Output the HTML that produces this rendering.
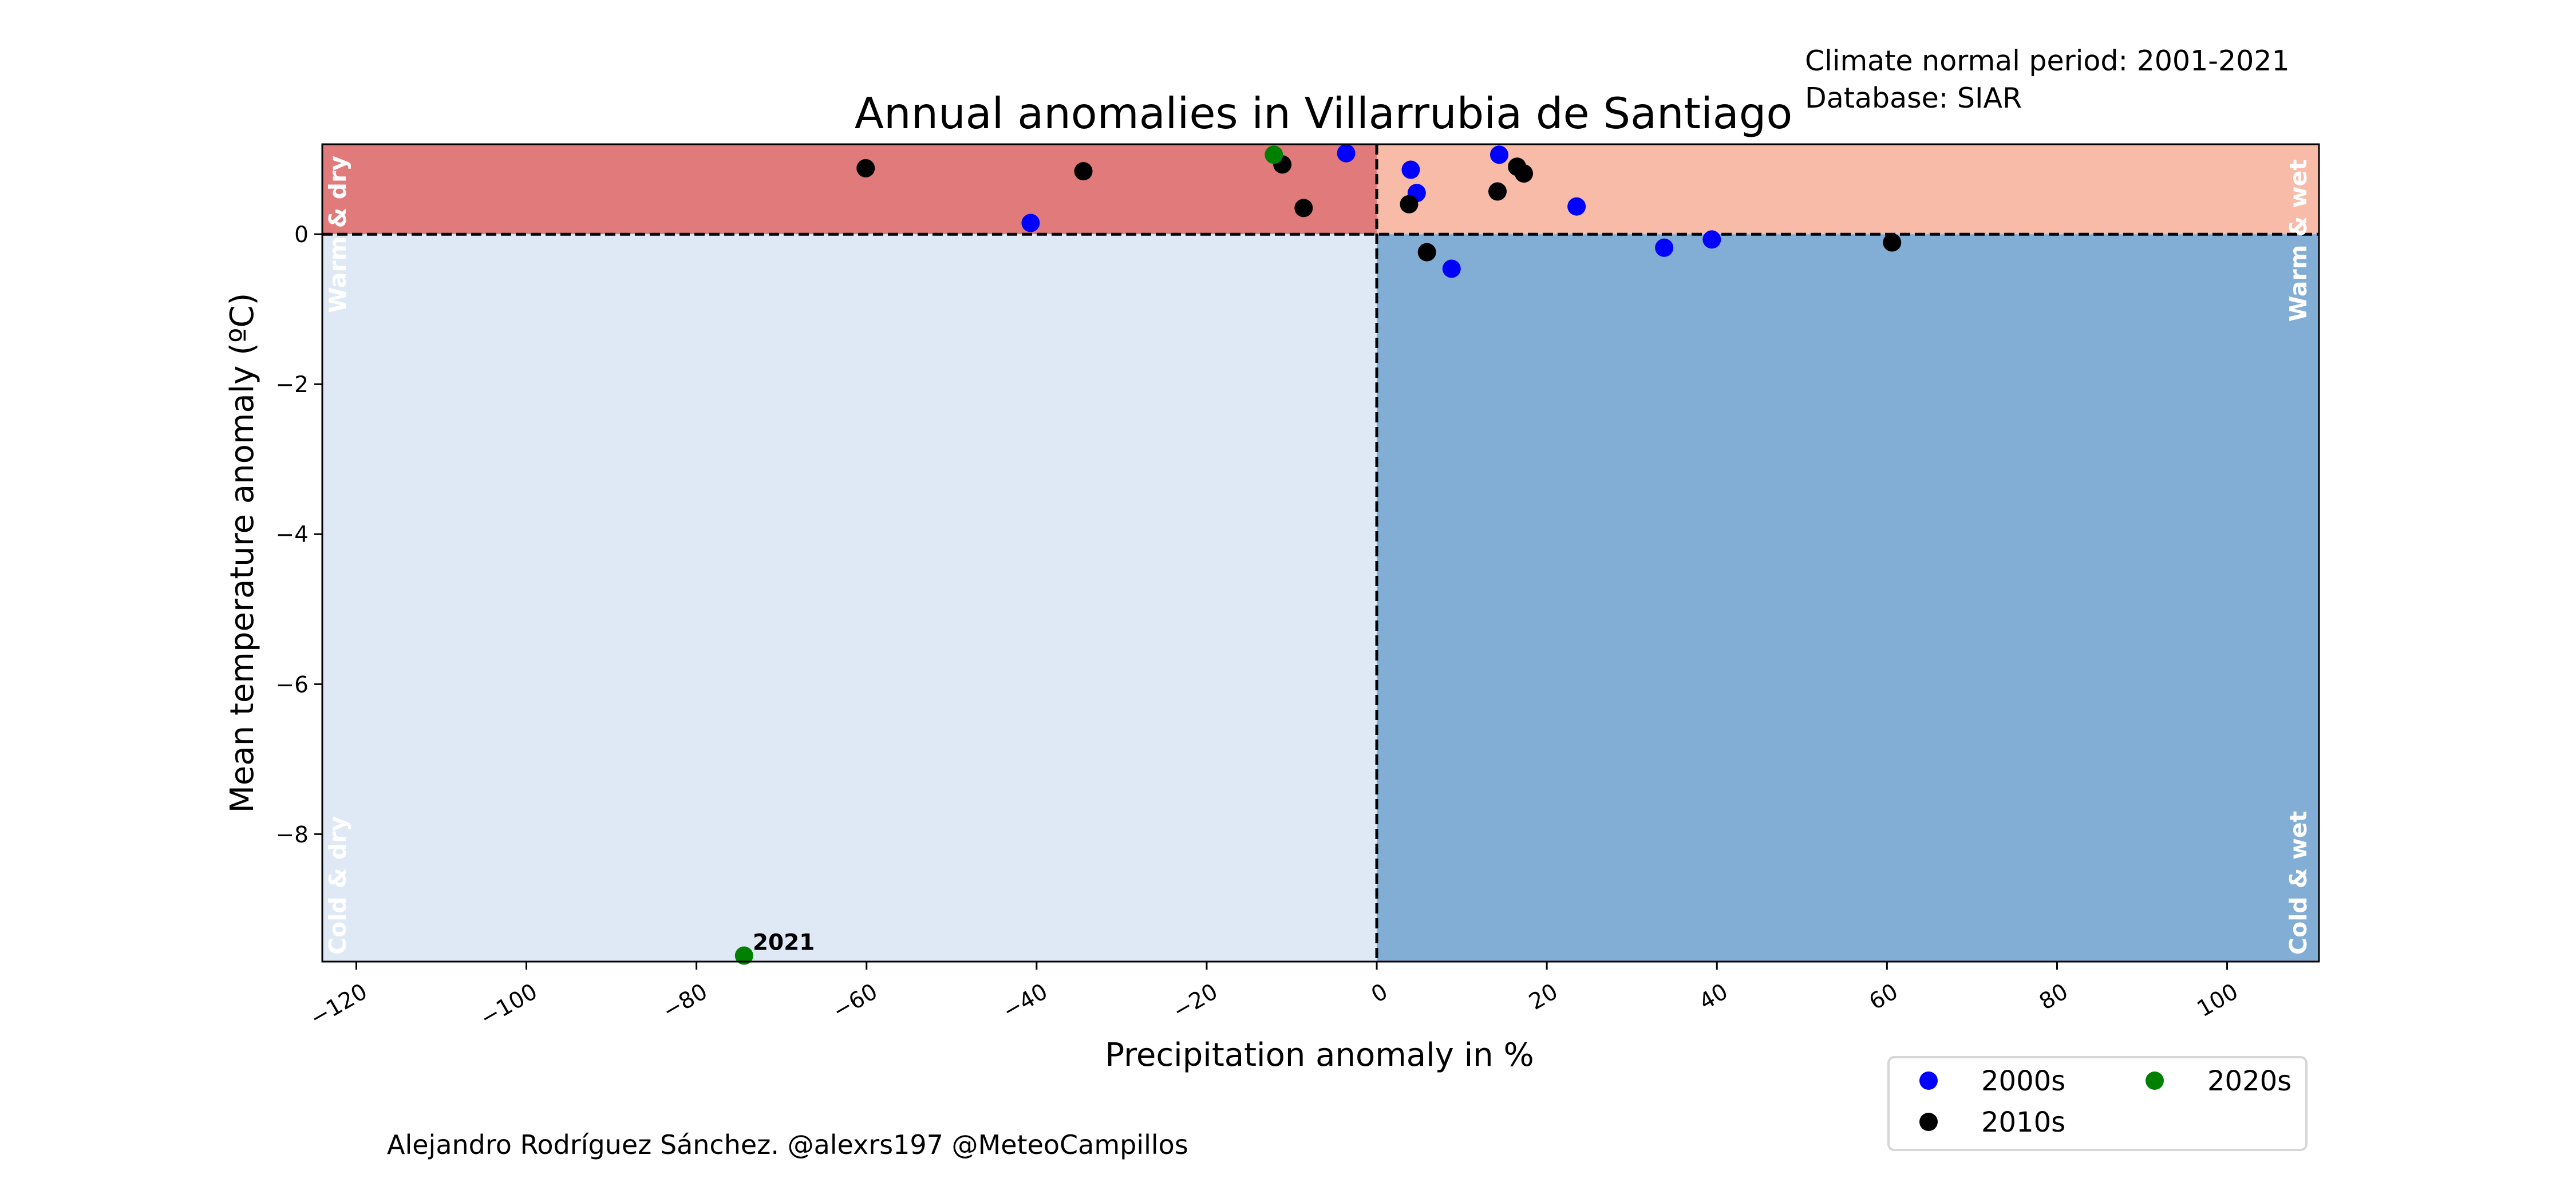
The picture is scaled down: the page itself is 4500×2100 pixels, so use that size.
<!DOCTYPE html>
<html><head><meta charset="utf-8"><style>
html,body{margin:0;padding:0;background:#fff;}
svg{display:block;font-family:"DejaVu Sans","Liberation Sans",sans-serif;}
</style></head><body>
<svg id="chart" width="4500" height="2100" viewBox="0 0 4500 2100">
<g id="bg"></g>
<g id="grid"></g>
<g id="qlabels"></g>
<g id="pts"></g>
<g id="axes"></g>
<text x="2312" y="224" font-size="75" text-anchor="middle">Annual anomalies in Villarrubia de Santiago</text>
<text x="3153" y="123" font-size="49">Climate normal period: 2001-2021</text>
<text x="3153" y="188" font-size="49">Database: SIAR</text>
<text x="2305" y="1862" font-size="56" text-anchor="middle">Precipitation anomaly in %</text>
<text transform="translate(442,966) rotate(-90)" font-size="56" text-anchor="middle">Mean temperature anomaly (ºC)</text>
<text x="676" y="2016" font-size="46">Alejandro Rodríguez Sánchez. @alexrs197 @MeteoCampillos</text>
<g>
<rect x="3299" y="1847" width="730" height="162" rx="10" fill="#fff" stroke="#d6d6d6" stroke-width="4"/>
<g><circle cx="3369" cy="1888" r="16" fill="#0000ff"/><text x="3461" y="1905" font-size="48">2000s</text></g>
<g><circle cx="3369" cy="1960" r="16" fill="#000"/><text x="3461" y="1977" font-size="48">2010s</text></g>
<g><circle cx="3764" cy="1888" r="16" fill="#008000"/><text x="3856" y="1905" font-size="48">2020s</text></g>
</g>
</svg>
<script>
const xTicks=[-120,-100,-80,-60,-40,-20,0,20,40,60,80,100];
const yTicks=[0,-2,-4,-6,-8];
const precip2000s=[-40.7,-3.6,4.0,4.7,14.4,23.5,8.8,33.8,39.4];
const temp2000s=[0.15,1.08,0.86,0.55,1.06,0.37,-0.46,-0.18,-0.07];
const precip2010s=[-60.1,-34.5,-11.1,-8.6,3.8,5.9,14.2,16.5,17.3,60.6];
const temp2010s=[0.88,0.84,0.93,0.35,0.40,-0.24,0.57,0.90,0.81,-0.11];
const precip2020s=[-12.1,-74.4];
const temp2020s=[1.06,-9.62];
const years2020s=["2020","2021"];
const xMin=-124.0,xMax=110.8,yMin=-9.70,yMax=1.2;
const L=563,R=4051,T=252,B=1680;
const sx=v=>L+(v-xMin)/(xMax-xMin)*(R-L);
const sy=v=>B-(v-yMin)/(yMax-yMin)*(B-T);
const NS="http://www.w3.org/2000/svg";
function mk(tag,parent,attrs){const e=document.createElementNS(NS,tag);for(const k in attrs)e.setAttribute(k,attrs[k]);parent.appendChild(e);return e;}
const bg=document.getElementById('bg');
const x0=sx(0),y0=sy(0);
let r;
r=mk('rect',bg,{x:L,y:T,width:x0-L,height:y0-T,fill:'#e17b7b'});

r=mk('rect',bg,{x:x0,y:T,width:R-x0,height:y0-T,fill:'#f7bba8'});

r=mk('rect',bg,{x:L,y:y0,width:x0-L,height:B-y0,fill:'#dee9f5'});

r=mk('rect',bg,{x:x0,y:y0,width:R-x0,height:B-y0,fill:'#82aed5'});

const g=document.getElementById('grid');
r=mk('line',g,{x1:L,x2:R,y1:y0,y2:y0,stroke:'#000','stroke-width':5,'stroke-dasharray':'18 8'});

r=mk('line',g,{x1:x0,x2:x0,y1:T,y2:B,stroke:'#000','stroke-width':5,'stroke-dasharray':'18 8'});

const ql=document.getElementById('qlabels');
function qlab(txt,x,y,name){const t=mk('text',ql,{transform:`translate(${x},${y}) rotate(-90)`,'font-size':41,'font-weight':'bold',fill:'#fff'});t.textContent=txt;}
qlab('Warm & dry',L+41,547,'warm-dry-label');
qlab('Cold & dry',L+41,1668,'cold-dry-label');
qlab('Warm & wet',R-22,562,'warm-wet-label');
qlab('Cold & wet',R-22,1668,'cold-wet-label');
const pts=document.getElementById('pts');
function series(xs,ys,col,name){xs.forEach((v,i)=>{const c=mk('circle',pts,{cx:sx(v),cy:sy(ys[i]),r:16,fill:col});});}
series(precip2000s,temp2000s,'#0000ff','point-2000s');
series(precip2010s,temp2010s,'#000000','point-2010s');
series(precip2020s,temp2020s,'#008000','point-2020s');
const li=temp2020s.length-1;
const lab=mk('text',pts,{x:sx(precip2020s[li])+15,y:sy(temp2020s[li])-10,'font-size':39,'font-weight':'bold'});
lab.textContent=years2020s[li];

const ax=document.getElementById('axes');
r=mk('rect',ax,{x:L,y:T,width:R-L,height:B-T,fill:'none',stroke:'#000','stroke-width':3});

xTicks.forEach(v=>{const x=sx(v);
 const tk=mk('line',ax,{x1:x,x2:x,y1:B,y2:B+14,stroke:'#000','stroke-width':3});
 
 const t=mk('text',ax,{transform:`translate(${x+8},${B+36}) rotate(-30)`,'font-size':39,'text-anchor':'end','dominant-baseline':'hanging'});
 t.textContent=v<0?'\u2212'+Math.abs(v):String(v);
 });
yTicks.forEach(v=>{const y=sy(v);
 const tk=mk('line',ax,{x1:L-14,x2:L,y1:y,y2:y,stroke:'#000','stroke-width':3});
 
 const t=mk('text',ax,{x:L-24,y:y+14,'font-size':39,'text-anchor':'end'});
 t.textContent=v<0?'\u2212'+Math.abs(v):String(v);
 });
</script>
</body></html>
